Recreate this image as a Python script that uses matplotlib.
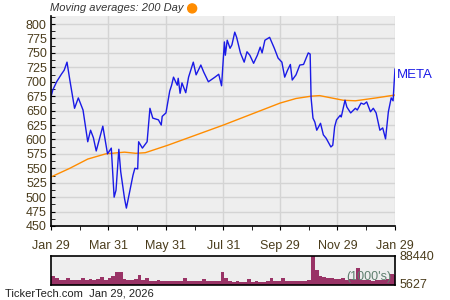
import matplotlib
matplotlib.use("Agg")
import matplotlib.pyplot as plt
from matplotlib.patches import Ellipse
import numpy as np

plt.rcParams['font.family'] = ['Liberation Sans', 'DejaVu Sans']

# 价格数据（距 2025-01-29 的天数）
price_day = [0, 2, 6, 11, 14, 17, 20, 25, 29, 34, 39, 42, 45, 48, 55, 60, 64, 67, 69, 72,
             74, 78, 80, 87, 89, 92, 93, 97, 102, 105, 108, 114, 117, 118, 122, 126, 128,
             130, 134, 135, 137, 139, 143, 146, 151, 154, 159, 162, 167, 174, 178, 181,
             184, 185, 187, 190, 192, 195, 197, 201, 205, 208, 211, 215, 219, 222, 224,
             227, 232, 237, 241, 245, 248, 251, 254, 256, 260, 264, 268, 273, 275, 276,
             278, 280, 282, 286, 289, 292, 297, 299, 301, 303, 307, 308, 312, 314, 318,
             323, 325, 329, 332, 335, 339, 342, 345, 349, 352, 355, 358, 361, 363, 365]
price = [674, 686, 700, 713, 720, 734, 703, 654, 672, 651, 596, 616, 603, 580, 623, 575,
         585, 500, 512, 583, 544, 498, 481, 538, 550, 549, 596, 585, 596, 654, 637, 634,
         625, 640, 646, 684, 694, 708, 694, 706, 680, 698, 681, 708, 734, 712, 729, 717,
         700, 708, 713, 693, 769, 746, 772, 758, 764, 786, 777, 750, 734, 752, 746, 732,
         746, 760, 750, 772, 777, 758, 741, 734, 708, 720, 730, 703, 712, 729, 730, 750,
         748, 672, 637, 630, 616, 628, 608, 602, 587, 590, 622, 634, 642, 639, 668, 656,
         646, 654, 651, 663, 661, 665, 648, 654, 646, 616, 620, 601, 648, 672, 667, 722]

# 200日均线
ma_day = [0, 20, 39, 58, 78, 90, 100, 124, 183, 243, 260, 276, 285, 310, 323, 345, 365]
ma = [535, 550, 566, 575, 578, 576, 577, 590, 625, 663, 671, 675, 676, 668, 667, 672, 677]

# 成交量（千股），每4天一个值
vol_day = list(range(0, 365, 4))
volume = [27000, 21000, 15000, 16000, 21000, 15000, 14000, 16000, 21000, 16000,
          17000, 15000, 18000, 24000, 15000, 21000, 28000, 39000, 41000, 17000,
          15000, 14000, 18000, 31000, 16000, 21000, 13000, 12000, 14000, 11000,
          12000, 11000, 13000, 12000, 11000, 21000, 12000, 11000, 12000, 13000,
          18000, 11000, 12000, 11000, 12000, 40000, 21000, 12000, 10000, 11000,
          9000, 10000, 18000, 10000, 11000, 9000, 10000, 12000, 22000, 11000,
          12000, 21000, 12000, 11000, 13000, 12000, 11000, 13000, 14000, 88440,
          45000, 28000, 24000, 21000, 22000, 19000, 17000, 20000, 16000, 18000,
          15000, 52000, 16000, 14000, 15000, 13000, 16000, 14000, 15000, 18000,
          33000, 30000]

tick_day = [0, 61, 122, 183, 243, 304, 365]
tick_lab = ["Jan 29", "Mar 31", "May 31", "Jul 31", "Sep 29", "Nov 29", "Jan 29"]
vol_ticks = [5627, 88440]

txt = '#4a3c1c'

fig = plt.figure(figsize=(4.5, 3), dpi=100)

# 主图
ax = fig.add_axes([0.1133, 0.2467, 0.7644, 0.70])
ax.set_facecolor('#eeeeee')
ax.plot(ma_day, ma, color='#ff8c00', lw=1.0)
ax.plot(price_day, price, color='#1a1ae6', lw=1.0)
ax.set_xlim(0, 365)
ax.set_ylim(450, 814)
ax.set_yticks(np.arange(450, 801, 25))
ax.set_yticks(np.arange(450, 814, 12.5), minor=True)
ax.set_xticks(tick_day)
ax.set_xticklabels(tick_lab)
ax.set_xticks([(a + b) / 2 for a, b in zip(tick_day[:-1], tick_day[1:])], minor=True)
ax.grid(True, which='major', color='#d4d4d4', lw=1.0)
ax.set_axisbelow(True)
for s in ['top', 'right']:
    ax.spines[s].set_visible(False)
for s in ['left', 'bottom']:
    ax.spines[s].set_linewidth(1.2)
ax.tick_params(axis='y', which='both', direction='in', length=3, labelsize=9, labelcolor=txt, pad=3)
ax.tick_params(axis='x', which='both', direction='out', length=3, labelsize=9, labelcolor=txt, pad=7)
ax.text(1.005, 0.72, "META", transform=ax.transAxes, color='#1a1ae6', fontsize=9.5, va='center')

# 标题和橙色圆点
fig.text(0.111, 0.972, "Moving averages: 200 Day", fontsize=8, style='italic',
         color='#333333', ha='left', va='center')
fig.add_artist(Ellipse((0.427, 0.972), 9 / 450, 9 / 300, transform=fig.transFigure,
                       color='#ff8c00'))

# 成交量
vx = fig.add_axes([0.1133, 0.05, 0.7644, 0.0967])
vx.set_facecolor('#eeeeee')
vx.bar(vol_day, volume, width=4, align='edge', color='#993366', lw=0)
vx.set_xlim(0, 365)
vx.set_ylim(0, 88440)
vx.set_xticks([])
vx.yaxis.tick_right()
vx.set_yticks(vol_ticks)
vx.set_yticklabels([str(v) for v in vol_ticks])
vx.tick_params(axis='y', length=0, labelsize=9, labelcolor=txt, pad=3)
for s in vx.spines.values():
    s.set_linewidth(1.2)
vx.text(0.99, 0.08, "(1000's)", transform=vx.transAxes, ha='right', va='bottom',
        fontsize=9, color='#5f7f6f')

fig.text(0.011, 0.02, "TickerTech.com  Jan 29, 2026", fontsize=8, color='#222222', va='center')

fig.savefig("out.png", dpi=100)
